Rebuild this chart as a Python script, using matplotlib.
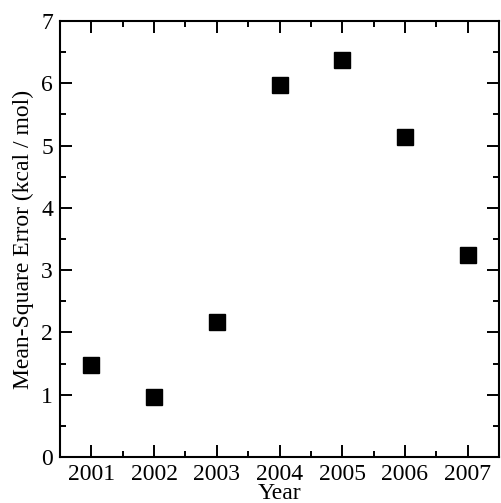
import matplotlib
matplotlib.use("Agg")
import matplotlib.pyplot as plt
from matplotlib.ticker import MultipleLocator

plt.rcParams["font.family"] = ["Liberation Serif", "DejaVu Serif"]

# Mean-square error per year
years = [2001, 2002, 2003, 2004, 2005, 2006, 2007]
mse = [1.47, 0.96, 2.16, 5.97, 6.37, 5.13, 3.24]

W, H = 501, 503
fig = plt.figure(figsize=(W / 100, H / 100), dpi=100)
ax = fig.add_axes([60 / W, (H - 457) / H, (499 - 60) / W, (457 - 21) / H])

ax.plot(years, mse, "s", color="black", markersize=12.2, linestyle="none")

ax.set_xlim(2000.5, 2007.5)
ax.set_ylim(0, 7)
ax.xaxis.set_major_locator(MultipleLocator(1))
ax.xaxis.set_minor_locator(MultipleLocator(0.5))
ax.yaxis.set_major_locator(MultipleLocator(1))
ax.yaxis.set_minor_locator(MultipleLocator(0.5))

ax.tick_params(which="both", direction="in", top=True, right=True,
               labelsize=17, width=1.4)
ax.tick_params(which="major", length=8.5)
ax.tick_params(which="minor", length=4.3)
ax.tick_params(axis="x", which="major", pad=5)
ax.tick_params(axis="y", which="major", pad=5)
for s in ax.spines.values():
    s.set_linewidth(1.5)

ax.set_xlabel("Year", fontsize=17, labelpad=-1.5)
ax.set_ylabel("Mean-Square Error (kcal / mol)", fontsize=17, labelpad=5)

fig.savefig("out.png", dpi=100)
